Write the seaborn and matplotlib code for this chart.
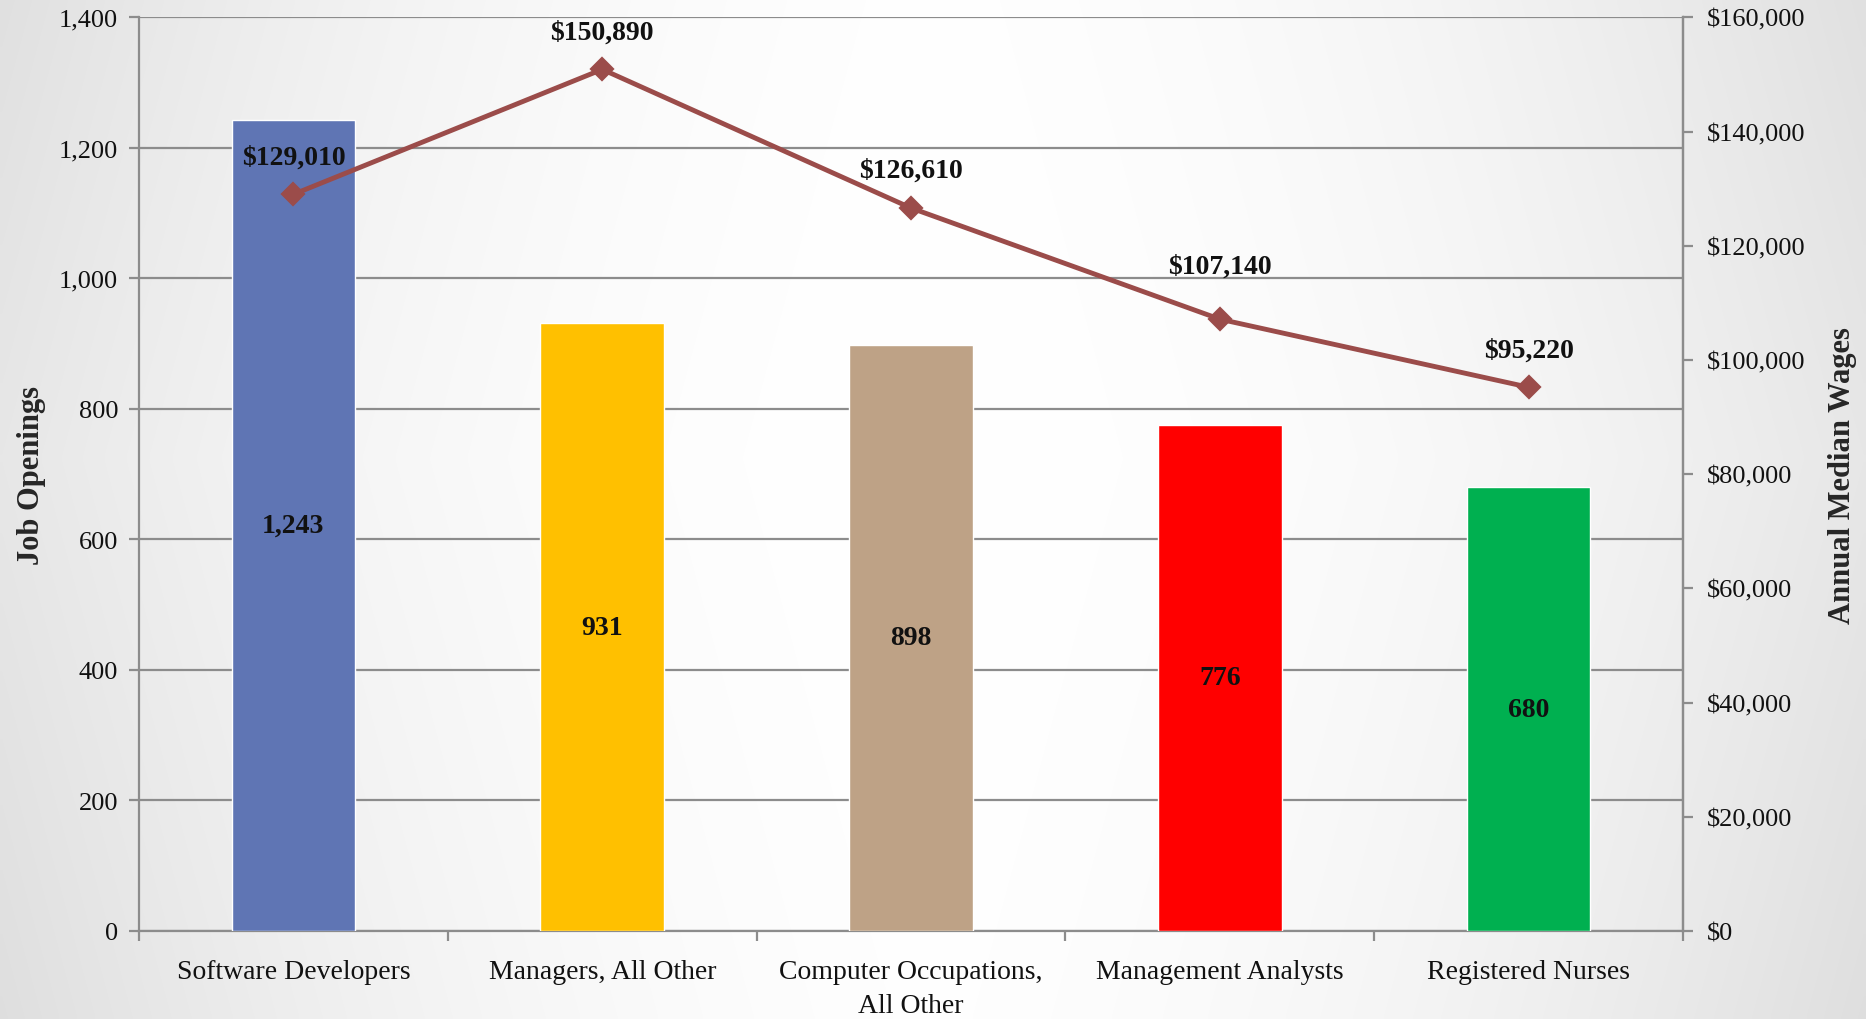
import numpy as np
import pandas as pd
import matplotlib
matplotlib.use("Agg")
import matplotlib.pyplot as plt
import seaborn as sns
from matplotlib.ticker import FuncFormatter, MultipleLocator, FixedLocator

categories = ["Software Developers", "Managers, All Other", "Computer Occupations,\nAll Other",
              "Management Analysts", "Registered Nurses"]
job_openings = [1243, 931, 898, 776, 680]
median_wages = [129010, 150890, 126610, 107140, 95220]
bar_colors = ["#5F75B4", "#FFC000", "#BEA286", "#FF0000", "#00B050"]
line_color = "#9B4C4A"
label_offsets_pt = [27, 27, 27, 38, 27]

sns.set_theme(style="white")
plt.rcParams["font.family"] = ["Liberation Serif", "DejaVu Serif"]

fig = plt.figure(figsize=(18.66, 10.20), dpi=100)

# background gradient
bg = fig.add_axes([0, 0, 1, 1], zorder=-10)
xx, yy = np.meshgrid(np.linspace(0, 1, 400), np.linspace(0, 1, 220))
d = np.abs(xx - 0.5) * 2
d2 = np.clip(d * 0.85 + 0.25 * np.abs(yy - 0.45), 0, 1)
g = 1 - 0.13 * d2 ** 2.0
bg.imshow(np.dstack([g, g, g]), aspect="auto", extent=[0, 1, 0, 1], interpolation="bilinear")
bg.set_axis_off()

ax = fig.add_axes([0.0745, 0.0863, 0.8275, 0.8957])
ax.set_facecolor("none")

df = pd.DataFrame({"cat": categories, "jobs": job_openings})
sns.barplot(data=df, x="cat", y="jobs", hue="cat", palette=bar_colors, width=0.4,
            legend=False, ax=ax, saturation=1, zorder=3)

ax.set_ylim(0, 1400)
ax.set_xlim(-0.5, 4.5)
ax.yaxis.set_major_locator(MultipleLocator(200))
ax.yaxis.set_major_formatter(FuncFormatter(lambda v, p: f"{int(v):,}"))
ax.grid(axis="y", color="#8C8C8C", linewidth=1.6, zorder=0)
ax.set_axisbelow(True)
ax.set_xlabel("")
ax.set_ylabel("Job Openings", fontsize=22, fontweight="bold", labelpad=9)

gray = "#8C8C8C"
for s in ["left", "bottom", "right"]:
    ax.spines[s].set_color(gray)
    ax.spines[s].set_linewidth(1.6)
ax.spines["top"].set_visible(False)

ax.tick_params(axis="y", which="major", left=True, length=7, width=1.6, color=gray,
               labelsize=19, pad=8, labelcolor="#111111")
ax.tick_params(axis="x", which="major", length=0, labelsize=20, pad=20, labelcolor="#111111")
for lbl in ax.get_xticklabels():
    lbl.set_linespacing(1.5)
ax.xaxis.set_minor_locator(FixedLocator(np.arange(-0.5, 5.0, 1.0)))
ax.tick_params(axis="x", which="minor", bottom=True, length=7, width=1.6, color=gray)

for i, v in enumerate(job_openings):
    ax.text(i, v / 2, f"{v:,}", ha="center", va="center", fontsize=20, fontweight="bold",
            color="#111111", zorder=5)

ax2 = ax.twinx()
ax2.set_facecolor("none")
sns.pointplot(x=list(range(len(categories))), y=median_wages, ax=ax2, color=line_color,
              markers="D", linestyles="-", errorbar=None, native_scale=True,
              markersize=10, linewidth=3.5)
ax2.set_xlim(-0.5, 4.5)
ax2.set_ylim(0, 160000)
ax2.yaxis.set_major_locator(MultipleLocator(20000))
ax2.yaxis.set_major_formatter(FuncFormatter(lambda v, p: f"${int(v):,}"))
ax2.tick_params(axis="y", right=True, length=7, width=1.6, color=gray, labelsize=19, pad=10,
                labelcolor="#111111")
ax2.set_ylabel("Annual Median Wages", fontsize=22, fontweight="bold", labelpad=16)
for s in ["left", "bottom", "top"]:
    ax2.spines[s].set_visible(False)
ax2.spines["right"].set_color(gray)
ax2.spines["right"].set_linewidth(1.6)
ax2.grid(False)

for i, w in enumerate(median_wages):
    ax2.annotate(f"${w:,}", (i, w), xytext=(0, label_offsets_pt[i]), textcoords="offset points",
                 ha="center", va="center", fontsize=20, fontweight="bold", color="#111111")

fig.savefig("out.png", dpi=100)
